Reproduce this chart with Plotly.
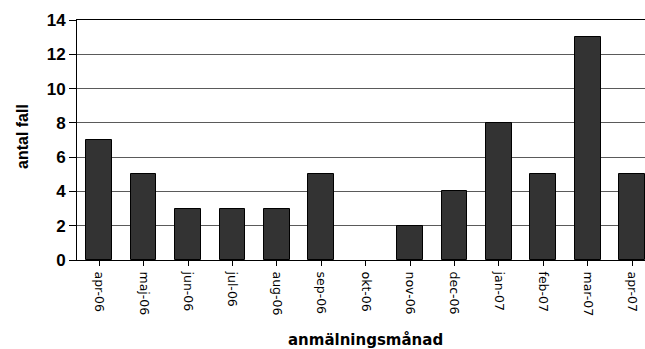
import plotly.graph_objects as go

# Monthly case counts by reporting month
months = ["apr-06", "maj-06", "jun-06", "jul-06", "aug-06", "sep-06", "okt-06",
          "nov-06", "dec-06", "jan-07", "feb-07", "mar-07", "apr-07"]
cases = [7, 5, 3, 3, 3, 5, 0, 2, 4, 8, 5, 13, 5]
y_ticks = [0, 2, 4, 6, 8, 10, 12, 14]

W, H = 645, 349
L, R, T, B = 77, 0, 20, 89
plot_w = W - L - R
plot_h = H - T - B

# no outline on empty months, so nothing is drawn there
outline_widths = [1 if v > 0 else 0 for v in cases]

fig = go.Figure(
    go.Bar(
        x=list(range(len(months))),
        y=cases,
        width=0.58,
        marker=dict(color="#333333", line=dict(color="#000000", width=outline_widths)),
        hoverinfo="skip",
    )
)

fig.update_layout(
    width=W,
    height=H,
    margin=dict(l=L, r=R, t=T, b=B, pad=0),
    paper_bgcolor="white",
    plot_bgcolor="white",
    showlegend=False,
    bargap=0,
)

fig.update_xaxes(
    range=[-0.5, 12.29],
    tickmode="array",
    tickvals=list(range(len(months))),
    ticktext=months,
    tickangle=90,
    tickson="boundaries",
    ticks="outside",
    ticklen=5,
    tickcolor="#000000",
    tickwidth=1,
    ticklabelstandoff=3,
    tickfont=dict(family="DejaVu Sans", size=12.5, color="#000000"),
    showline=True,
    linecolor="#000000",
    linewidth=1,
    mirror=True,
    showgrid=False,
    zeroline=False,
)

fig.update_yaxes(
    range=[0, 14],
    tickmode="array",
    tickvals=y_ticks,
    ticks="outside",
    ticklen=7,
    tickcolor="#000000",
    tickwidth=1,
    tickfont=dict(family="Liberation Sans", size=17, color="#000000", weight="bold"),
    showline=True,
    linecolor="#000000",
    linewidth=1,
    showgrid=True,
    gridcolor="#5a5a5a",
    gridwidth=1,
    zeroline=False,
)

# Axis titles
fig.add_annotation(
    text="<b>anmälningsmånad</b>",
    xref="paper", yref="paper",
    x=(365 - L) / plot_w, y=(T + plot_h - 340) / plot_h,
    xanchor="center", yanchor="middle",
    showarrow=False,
    font=dict(family="DejaVu Sans", size=15, color="#000000"),
)
fig.add_annotation(
    text="<b>antal fall</b>",
    xref="paper", yref="paper",
    x=(22 - L) / plot_w, y=(T + plot_h - 137) / plot_h,
    xanchor="center", yanchor="middle",
    textangle=-90,
    showarrow=False,
    font=dict(family="Liberation Sans", size=16, color="#000000"),
)

fig.write_html("out.html")
